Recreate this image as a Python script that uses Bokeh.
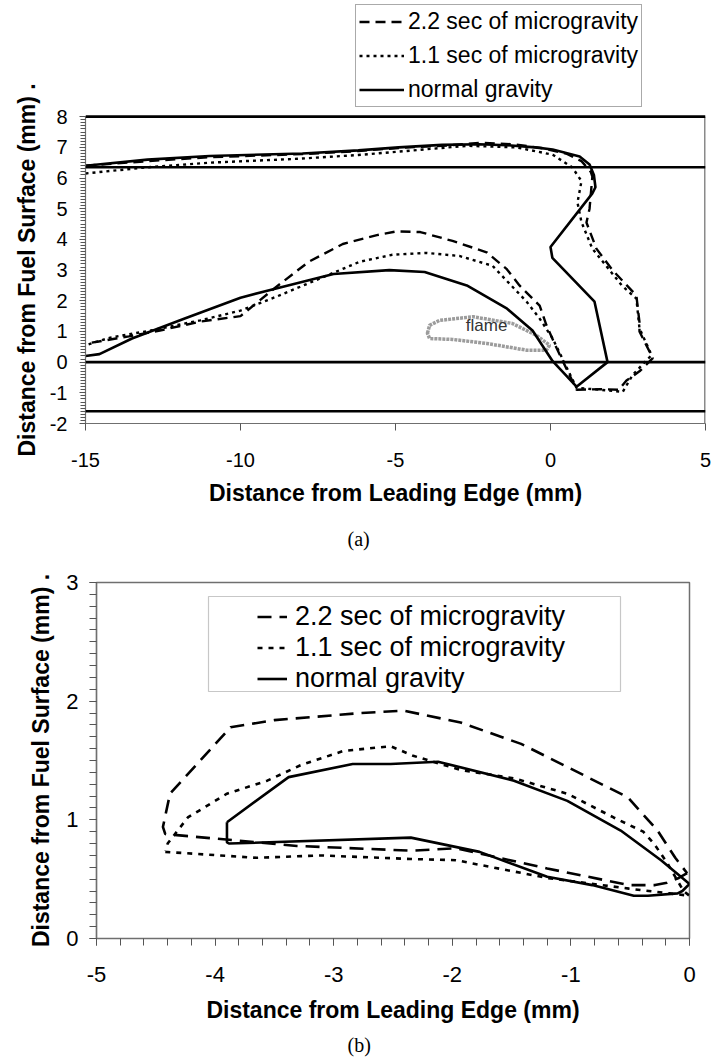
from bokeh.plotting import figure
from bokeh.models import Range1d, FixedTicker, Span, Legend, LegendItem, Title, BoxAnnotation
from bokeh.layouts import column
from bokeh.embed import file_html
from bokeh.resources import INLINE
from bokeh.core.properties import value
import numpy as np

FONT = "Liberation Sans"
SERIF = "Liberation Serif"

# ---------------- data: panel (a) ----------------
labels = ["2.2 sec of microgravity", "1.1 sec of microgravity", "normal gravity"]
x_title = "Distance from Leading Edge (mm)"
y_title = "Distance from Fuel Surface (mm) ."

a_micro22_x = [-15, -13, -11, -8, -6.2, -4.9, -3.5, -2.2, -1.2, -0.3, 0.5, 1.0, 1.3, 1.35, 1.26, 1.16,
               1.48, 2.0, 2.77, 2.87, 2.87, 3.3, 2.87, 2.45, 2.2, 1.6, 0.84, 0.2, -0.13, -0.35, -1.0,
               -1.42, -2.06, -3.16, -4.2, -4.97, -5.6, -6.7, -7.8, -8.85, -10.0, -11.3, -12.6, -13.6, -15]
a_micro22_y = [6.4, 6.55, 6.68, 6.78, 6.88, 6.98, 7.05, 7.15, 7.1, 6.98, 6.8, 6.55, 6.2, 6.05, 5.0, 4.55,
               3.7, 3.0, 2.17, 1.3, 1.0, 0.13, -0.3, -0.6, -0.9, -0.88, -0.9, 0.45, 1.2, 1.84, 2.5,
               3.04, 3.58, 3.95, 4.24, 4.26, 4.14, 3.85, 3.27, 2.45, 1.5, 1.32, 1.03, 0.84, 0.6]

a_micro11_x = [-15, -13, -11, -8.1, -6.2, -4.9, -2.7, -1.1, 0.07, 0.7, 1.0, 0.87, 1.0, 1.35, 2.3, 2.77,
               2.87, 3.26, 2.65, 2.33, 1.6, 0.84, 0.07, -0.35, -0.77, -1.87, -2.94, -4.0, -5.1, -6.16,
               -7.45, -8.85, -10.0, -11.3, -12.9, -14.2, -15]
a_micro11_y = [6.15, 6.35, 6.5, 6.63, 6.75, 6.86, 7.05, 7.0, 6.76, 6.35, 5.9, 5.2, 4.56, 3.7, 2.5, 2.07,
               1.1, 0.23, -0.42, -0.97, -0.9, -0.84, 0.77, 1.42, 1.97, 3.14, 3.46, 3.56, 3.5, 3.27,
               2.72, 2.13, 1.68, 1.36, 1.03, 0.8, 0.55]

a_normal_x = [-15, -13, -11, -8, -6.2, -4.9, -3.5, -2.3, -1.4, -0.5, 0.07, 0.94, 1.26, 1.4, 1.45, 1.35,
              0.0, 0.06, 1.42, 1.84, 0.84, 0.07, -0.58, -1.4, -2.7, -4.06, -5.2, -7.0, -8.85, -10.0,
              -11.8, -13.5, -14.55, -15]
a_normal_y = [6.4, 6.6, 6.72, 6.8, 6.9, 7.0, 7.08, 7.1, 7.07, 7.0, 6.93, 6.7, 6.44, 6.1, 5.7, 5.5,
              3.75, 3.4, 1.97, 0.0, -0.8, 0.03, 1.03, 1.74, 2.5, 2.94, 3.0, 2.87, 2.4, 2.1,
              1.42, 0.77, 0.26, 0.2]

flame_x = [-3.97, -3.9, -3.58, -2.5, -1.23, -0.45, -0.03, -0.13, -0.77, -2.06, -3.16, -3.9]
flame_y = [0.94, 1.2, 1.36, 1.48, 1.26, 0.87, 0.55, 0.39, 0.39, 0.61, 0.74, 0.77]
flame_label = ["flame"]
flame_label_x = [-2.06]
flame_label_y = [1.2]

a_hlines = [8, 6.35, 0, -1.6]
a_xlim = (-15, 5)
a_ylim = (-2, 8)
a_x_ticks = [-15, -10, -5, 0, 5]
a_y_ticks = [-2, -1, 0, 1, 2, 3, 4, 5, 6, 7, 8]

# ---------------- data: panel (b) ----------------
b_micro22_x = [-0.02, -0.09, -0.19, -0.29, -0.44, -0.51, -1.2, -1.97, -2.35, -3.31, -4.42, -4.44, -4.38,
               -3.87, -3.5, -2.77, -2.41, -1.93, -1.42, -0.52, -0.27, -0.12, -0.02]
b_micro22_y = [0.55, 0.51, 0.47, 0.45, 0.45, 0.45, 0.59, 0.76, 0.74, 0.78, 0.88, 0.94, 1.22,
               1.78, 1.84, 1.9, 1.92, 1.82, 1.64, 1.19, 0.91, 0.68, 0.55]

b_micro11_x = [-4.42, -3.65, -3.11, -2.35, -1.97, -1.2, -0.51, -0.17, 0.0, -0.05, -0.19, -0.3, -0.39,
               -0.64, -1.03, -1.48, -1.93, -2.33, -2.52, -2.92, -3.28, -3.56, -3.9, -4.23, -4.4, -4.42]
b_micro11_y = [0.73, 0.68, 0.70, 0.67, 0.66, 0.51, 0.42, 0.38, 0.36, 0.4, 0.64, 0.8, 0.9,
               1.02, 1.22, 1.35, 1.42, 1.54, 1.62, 1.58, 1.46, 1.33, 1.22, 1.02, 0.8, 0.74]

b_normal_x = [-3.9, -3.38, -2.84, -2.52, -2.12, -1.48, -1.03, -0.58, -0.24, -0.06, 0.0, -0.06, -0.1,
              -0.35, -0.47, -0.82, -1.2, -1.77, -2.35, -3.88, -3.9, -3.9]
b_normal_y = [0.98, 1.36, 1.47, 1.47, 1.49, 1.33, 1.16, 0.91, 0.66, 0.51, 0.46, 0.4, 0.38,
              0.36, 0.36, 0.45, 0.52, 0.73, 0.85, 0.8, 0.81, 0.98]

b_x_ticks = [-5, -4, -3, -2, -1, 0]
b_y_ticks = [0, 1, 2, 3]


def style_axes(p, tick_size, label_size, xt, yt):
    for ax, ticks in ((p.xaxis[0], xt), (p.yaxis[0], yt)):
        ax.axis_line_color = "#6f6f6f"
        ax.axis_line_width = 1.2
        ax.major_tick_line_color = "#555555"
        ax.minor_tick_line_color = "#555555"
        ax.major_tick_in = 0
        ax.minor_tick_in = 0
        ax.major_label_text_font = FONT
        ax.major_label_text_font_size = tick_size
        ax.major_label_text_color = "black"
        ax.major_label_overrides = {t: str(t) for t in ticks}
        ax.axis_label_text_font = FONT
        ax.axis_label_text_font_size = label_size
        ax.axis_label_text_font_style = "bold"
        ax.axis_label_text_color = "black"
    p.grid.visible = False
    p.background_fill_color = "white"
    p.border_fill_color = "white"


# ================= panel (a) =================
# the frame extends above y=8 so that the legend (which sits above the plotted area) fits inside it
p1 = figure(width=713, height=566, x_range=Range1d(*a_xlim), y_range=Range1d(a_ylim[0], 11.786),
            output_backend="svg", toolbar_location=None, frame_align=False,
            min_border_left=85, min_border_right=8, min_border_top=0, min_border_bottom=140)
p1.outline_line_color = None
p1.xaxis.axis_label = x_title
style_axes(p1, "20px", "23px", a_x_ticks, a_y_ticks)
p1.yaxis.bounds = a_ylim
p1.xaxis.ticker = FixedTicker(ticks=a_x_ticks, minor_ticks=[])
p1.yaxis.ticker = FixedTicker(ticks=a_y_ticks,
                              minor_ticks=[round(v, 2) for v in np.arange(-2, 8.001, 0.1)])
p1.xaxis.major_tick_out = 7
p1.xaxis.minor_tick_out = 0
p1.yaxis.major_tick_out = 6
p1.yaxis.minor_tick_out = 5
p1.xaxis.major_label_standoff = 22
p1.yaxis.major_label_standoff = 12
p1.xaxis.axis_label_standoff = 10

# y title of panel (a): anchored near the bottom of the axis, running upward
p1.add_layout(Title(text=y_title, align="left", offset=-33, standoff=14, text_font=FONT,
                    text_font_size="23px", text_font_style="bold", text_color="black"), "left")

# right-hand plot border (between y=-2 and y=8)
p1.segment(x0=[a_xlim[1]], y0=[a_ylim[0]], x1=[a_xlim[1]], y1=[a_ylim[1]],
           line_color="#8a8a8a", line_width=3)

for h in a_hlines:
    p1.add_layout(Span(location=h, dimension="width", line_color="black", line_width=2.6))

p1.patch(flame_x, flame_y, fill_color=None, line_color="#9c9c9c", line_width=3.5, line_dash="3 1")
p1.text(x=flame_label_x, y=flame_label_y, text=flame_label, text_font=value(FONT),
        text_font_size="17px", text_align="center", text_baseline="middle", text_color="#333333")

r1 = p1.line(a_micro22_x, a_micro22_y, line_color="black", line_width=2.4, line_dash="10 6")
r2 = p1.line(a_micro11_x, a_micro11_y, line_color="black", line_width=2.4, line_dash="3 4")
r3 = p1.line(a_normal_x, a_normal_y, line_color="black", line_width=2.6)

leg1 = Legend(items=[LegendItem(label=labels[0], renderers=[r1]),
                     LegendItem(label=labels[1], renderers=[r2]),
                     LegendItem(label=labels[2], renderers=[r3])],
              location=(270, 316), orientation="vertical",
              label_text_font=FONT, label_text_font_size="23px", label_text_color="black",
              glyph_width=45, glyph_height=27, label_height=27, label_width=228,
              label_standoff=4, spacing=7, padding=3, margin=0,
              border_line_color="#555555", border_line_width=1,
              background_fill_color="white", background_fill_alpha=1)
p1.add_layout(leg1, "center")

p1.add_layout(Title(text="(a)", align="left", offset=262, standoff=34, text_font=SERIF,
                    text_font_size="20px", text_font_style="normal", text_color="black"), "below")

# ================= panel (b) =================
p2 = figure(width=713, height=495, x_range=Range1d(-5, 0), y_range=Range1d(0, 3),
            output_backend="svg", toolbar_location=None, frame_align=False,
            min_border_left=96, min_border_right=24, min_border_top=16, min_border_bottom=123)
p2.outline_line_color = "#6f6f6f"
p2.outline_line_width = 1.5
p2.xaxis.axis_label = x_title
p2.yaxis.axis_label = y_title
style_axes(p2, "22px", "23px", b_x_ticks, b_y_ticks)
p2.xaxis.ticker = FixedTicker(ticks=b_x_ticks,
                              minor_ticks=[round(v, 2) for v in np.arange(-5, 0.001, 0.2)])
p2.yaxis.ticker = FixedTicker(ticks=b_y_ticks,
                              minor_ticks=[round(v, 2) for v in np.arange(0, 3.001, 0.1)])
p2.xaxis.major_tick_out = 7
p2.xaxis.minor_tick_out = 7
p2.yaxis.major_tick_out = 7
p2.yaxis.minor_tick_out = 7
p2.xaxis.major_label_standoff = 21
p2.yaxis.major_label_standoff = 11
p2.xaxis.axis_label_standoff = 12
p2.yaxis.axis_label_standoff = 9

s1 = p2.line(b_micro22_x, b_micro22_y, line_color="black", line_width=2.6, line_dash="14 8")
s2 = p2.line(b_micro11_x, b_micro11_y, line_color="black", line_width=2.6, line_dash="5 6")
s3 = p2.line(b_normal_x, b_normal_y, line_color="black", line_width=2.6)

p2.add_layout(BoxAnnotation(left=112, right=524, bottom=247, top=342,
                            left_units="screen", right_units="screen",
                            bottom_units="screen", top_units="screen",
                            fill_color="white", fill_alpha=1.0,
                            line_color="#444444", line_width=1.2))

leg2 = Legend(items=[LegendItem(label=labels[0], renderers=[s1]),
                     LegendItem(label=labels[1], renderers=[s2]),
                     LegendItem(label=labels[2], renderers=[s3])],
              location=(161, 244), orientation="vertical",
              label_text_font=FONT, label_text_font_size="27px", label_text_color="black",
              glyph_width=30, glyph_height=29, label_height=29,
              label_standoff=8, spacing=0, padding=0, margin=0,
              border_line_color=None, background_fill_alpha=0)
p2.add_layout(leg2, "center")

p2.add_layout(Title(text="(b)", align="left", offset=251, standoff=12, text_font=SERIF,
                    text_font_size="20px", text_font_style="normal", text_color="black"), "below")

layout = column(p1, p2, spacing=0)
open("out.html", "w").write(file_html(layout, INLINE))
